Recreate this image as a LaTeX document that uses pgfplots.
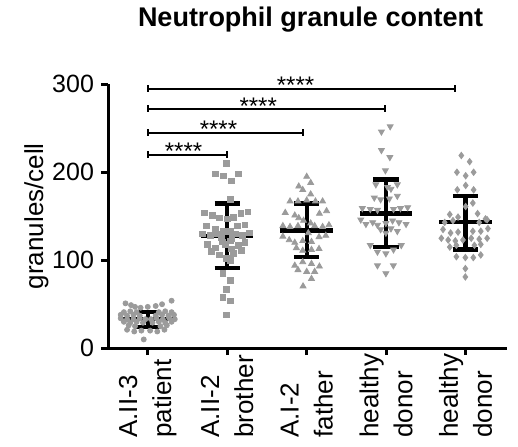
\documentclass[border=0pt]{standalone}
\usepackage{fontspec}
\setmainfont{Liberation Sans}
\usepackage{pgfplots}
\pgfplotsset{compat=1.18}
\definecolor{dotgray}{RGB}{155,155,155}
\pgfplotsset{
  meanbar/.style={black, line width=2.2pt, forget plot},
  sig/.style={black, line width=1pt, mark=|, mark size=1.75pt, mark options={line width=1pt}, forget plot},
}
\tikzset{
  stars/.style={anchor=base, inner sep=0pt, font=\fontsize{12}{14}\selectfont},
}

\begin{document}
\begin{tikzpicture}
\begin{axis}[
  name=ax,
  scale only axis, width=199.5pt, height=132pt,
  xmin=-0.5, xmax=4.52, ymin=0, ymax=300,
  axis x line*=bottom, axis y line*=left,
  axis line style={line width=1.5pt},
  tick align=outside, major tick length=3.5pt,
  tick style={line width=1.5pt, black},
  ytick={0,100,200,300},
  xtick={0,1,2,3,4},
  xticklabels={{A.II-3\\patient},{A.II-2\\brother},{A.I-2\\father},{healthy\\donor},{healthy\\donor}},
  xticklabel style={rotate=90, anchor=east, align=left, text width=41pt, inner sep=0pt,
    font=\fontsize{13}{17}\selectfont},
  yticklabel style={font=\fontsize{12.5}{15}\selectfont},
  /pgf/number format/assume math mode=true,
  ylabel={granules/cell},
  ylabel style={at={([xshift=-29.5pt]axis description cs:0,0.5)}, anchor=south, inner sep=0pt,
    font=\fontsize{13}{15}\selectfont},
  title={Neutrophil granule content},
  title style={at={([xshift=1.5pt,yshift=23pt]axis description cs:0.5,1)}, anchor=base,
    font=\bfseries\fontsize{13.5}{15}\selectfont},
  clip=false,
]
% A.II-3 patient
\addplot[only marks, mark=*, mark size=1.25pt, color=dotgray] coordinates {
(-0.28,51) (-0.21,49) (-0.16,47) (-0.09,46) (0,47) (0.1,48) (0.18,50) (0.3,54)
(-0.30,41) (-0.22,42) (-0.14,41) (0.14,41) (0.22,42) (0.30,41)
(-0.34,38) (-0.26,37) (-0.18,38) (-0.10,37) (0.10,37) (0.18,38) (0.26,37) (0.33,38)
(-0.34,34) (-0.26,33) (-0.18,33) (-0.10,34) (-0.03,33) (0.04,33) (0.11,34) (0.19,33) (0.27,34) (0.34,33)
(-0.30,30) (-0.22,29) (-0.14,30) (-0.06,29) (0.06,29) (0.14,30) (0.22,29) (0.30,30)
(-0.24,26) (-0.16,25) (0.16,25) (0.24,26)
(-0.26,21) (-0.17,19) (-0.08,20) (0.03,20) (0.12,19) (0.21,21)
(-0.05,10)
};
% A.II-2 brother
\addplot[only marks, mark=square*, mark size=1.4pt, color=dotgray] coordinates {
(0.99,210) (0.85,198) (0.95,196) (1.14,198) (1.05,190) (1.04,169)
(0.71,154) (0.81,151) (0.90,148) (1.00,147) (1.08,149) (1.17,153) (1.26,155)
(0.74,139) (0.85,135) (0.95,133) (1.04,133) (1.13,139) (1.22,140)
(0.69,130) (0.79,128) (0.88,130) (1.10,130) (1.19,128) (1.28,131)
(0.93,126) (1.06,125) (0.98,118) (1.05,113)
(0.75,118) (0.85,114) (0.94,121) (1.04,122) (1.14,117) (1.22,120)
(0.80,110) (0.90,106) (0.99,102) (1.08,108) (1.18,111) (1.04,100)
(0.945,85) (1.04,77) (0.99,67) (0.945,58) (1.04,54) (0.99,38)
};
% A.I-2 father
\addplot[only marks, mark=triangle*, mark size=1.7pt, color=dotgray] coordinates {
(2.00,195) (2.05,188) (1.90,184) (1.95,180) (2.05,175)
(1.79,167) (1.89,167) (2.00,168) (2.11,167) (2.20,167)
(1.73,154) (1.85,151) (1.90,148) (2.16,153) (2.25,156)
(1.96,145) (2.05,142) (2.02,131)
(1.70,139) (1.79,138) (1.89,139) (2.10,139) (2.20,138) (2.28,140)
(1.70,127) (1.78,123) (1.85,120) (1.95,122) (2.06,121) (2.155,126.5) (2.24,128)
(1.87,114) (1.95,111) (2.06,112) (2.155,113)
(1.85,94) (1.95,98) (2.06,96) (2.16,93)
(1.89,89) (2.00,87) (2.10,87)
(2.06,79) (1.954,70.5)
};
% healthy donor
\addplot[only marks, mark=triangle*, mark size=1.7pt, mark options={rotate=180}, color=dotgray] coordinates {
(2.94,246) (3.05,252) (2.94,225) (3.046,217) (2.99,202)
(2.87,186) (3.14,186) (3.017,183) (3.06,181)
(2.85,171) (2.93,169) (3.04,170) (3.14,173)
(2.70,159) (2.80,158) (2.89,157) (3.092,158) (3.18,159) (3.27,160)
(2.68,146) (2.745,141) (2.83,143) (2.89,140) (2.996,142) (3.08,145) (3.16,143) (3.25,141)
(2.93,135) (2.996,131) (3.06,136) (3.14,133)
(2.80,117) (2.89,109.5) (2.996,107.6) (3.092,112) (3.19,117)
(2.89,94) (3.09,94) (2.996,85)
};
% healthy donor
\addplot[only marks, mark=diamond*, mark size=1.6pt, color=dotgray] coordinates {
(3.945,219) (4.05,212) (3.89,200) (4.10,200) (4.00,196)
(4.00,185) (3.895,180) (4.10,180)
(4.00,161) (4.09,165)
(3.80,152) (3.904,149) (4.15,153) (4.25,147)
(3.736,143) (3.84,145) (4.17,143) (4.27,146)
(3.715,135) (3.81,131) (3.904,132) (4.09,133) (4.19,133) (4.28,136)
(3.694,125) (3.78,123) (3.87,122) (3.966,123) (4.07,125) (4.17,124) (4.27,125)
(3.80,115) (3.883,117) (4.11,117) (4.19,118)
(3.883,104) (3.996,103) (4.096,103) (4.19,106)
(3.996,90.5) (3.996,81)
};
% mean +/- SD
\addplot[meanbar] coordinates {(-0.33,33) (0.33,33)};
\addplot[meanbar] coordinates {(0,24) (0,41)};
\addplot[meanbar] coordinates {(-0.16,24) (0.16,24)};
\addplot[meanbar] coordinates {(-0.16,41) (0.16,41)};
\addplot[meanbar] coordinates {(0.67,127.6) (1.33,127.6)};
\addplot[meanbar] coordinates {(1,91) (1,164.4)};
\addplot[meanbar] coordinates {(0.84,91) (1.16,91)};
\addplot[meanbar] coordinates {(0.84,164.4) (1.16,164.4)};
\addplot[meanbar] coordinates {(1.67,134) (2.33,134)};
\addplot[meanbar] coordinates {(2,103.8) (2,164.4)};
\addplot[meanbar] coordinates {(1.84,103.8) (2.16,103.8)};
\addplot[meanbar] coordinates {(1.84,164.4) (2.16,164.4)};
\addplot[meanbar] coordinates {(2.67,153) (3.33,153)};
\addplot[meanbar] coordinates {(3,115) (3,191.7)};
\addplot[meanbar] coordinates {(2.84,115) (3.16,115)};
\addplot[meanbar] coordinates {(2.84,191.7) (3.16,191.7)};
\addplot[meanbar] coordinates {(3.67,143.6) (4.33,143.6)};
\addplot[meanbar] coordinates {(4,112) (4,172.7)};
\addplot[meanbar] coordinates {(3.84,112) (4.16,112)};
\addplot[meanbar] coordinates {(3.84,172.7) (4.16,172.7)};
% significance brackets
\addplot[sig] coordinates {(0,220) (1,220)};
\addplot[sig] coordinates {(0,245) (1.95,245)};
\addplot[sig] coordinates {(0,272) (2.99,272)};
\addplot[sig] coordinates {(0,295) (3.86,295)};
\node[stars] at (axis cs:0.45,214) {****};
\node[stars] at (axis cs:0.89,239) {****};
\node[stars] at (axis cs:1.39,266) {****};
\node[stars] at (axis cs:1.86,289) {****};
\end{axis}
\path ([shift={(-54pt,-49pt)}]ax.south west) rectangle ([shift={(5.5pt,37pt)}]ax.north east);
\end{tikzpicture}
\end{document}
